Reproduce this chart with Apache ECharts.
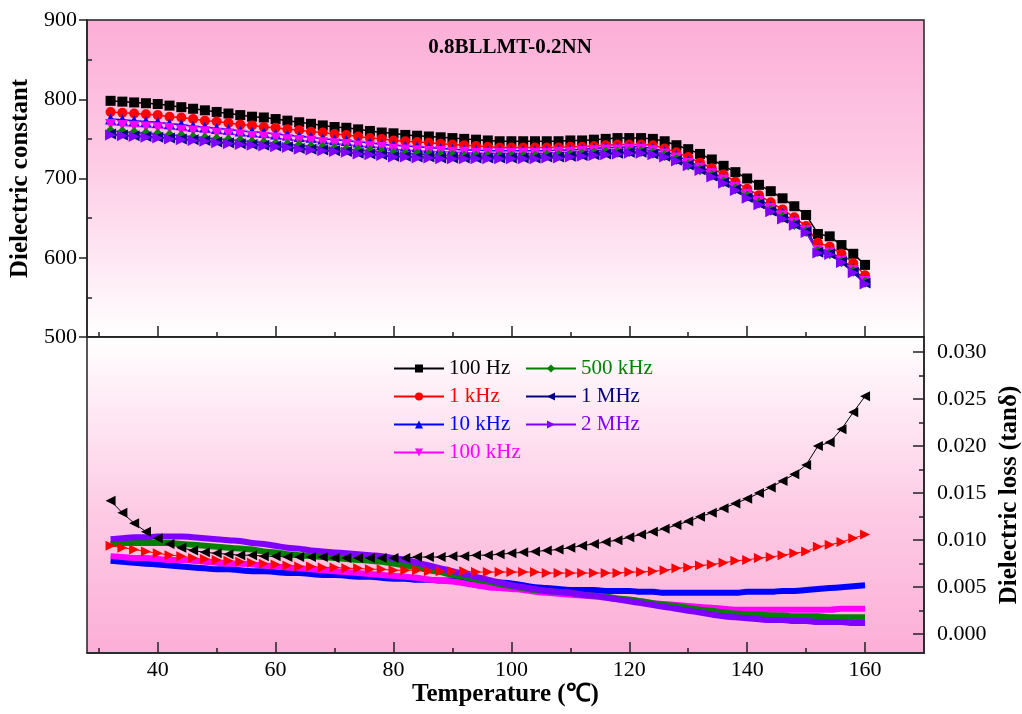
<!DOCTYPE html>
<html><head><meta charset="utf-8">
<script src="https://cdn.jsdelivr.net/npm/echarts@6/dist/echarts.min.js"></script>
<style>html,body{margin:0;padding:0;background:#fff}#c{width:1022px;height:714px}</style>
</head><body><div id="c"></div><script>
// Temperature (°C)
const temps = [32,34,36,38,40,42,44,46,48,50,52,54,56,58,60,62,64,66,68,70,72,74,76,78,80,82,84,86,88,90,92,94,96,98,100,102,104,106,108,110,112,114,116,118,120,122,124,126,128,130,132,134,136,138,140,142,144,146,148,150,152,154,156,158,160];

// Dielectric constant (top panel)
const dc100Hz = [798,797,796,795,794,792,790,788,786,784,782,780,778,777,775,773,771,769,767,765,764,762,760,758,757,755,754,753,752,751,750,749,748,747,747,747,747,747,747,748,748,749,750,751,751,751,750,747,742,737,731,724,716,708,700,692,684,675,665,654,630,627,616,605,591];
const dc1kHz = [784,783,782,781,780,778,777,775,773,772,770,768,767,765,764,762,761,759,758,756,755,753,751,750,748,747,746,745,744,743,742,741,740,739,739,739,739,739,739,740,740,741,742,743,743,743,742,738,733,727,720,713,705,696,687,679,670,661,651,640,619,614,605,593,578];
const dc10kHz = [775,774,773,772,771,769,768,766,765,763,762,760,759,758,756,755,753,752,750,749,748,746,745,743,742,741,740,739,738,737,736,736,735,735,735,735,735,735,736,736,737,738,739,739,740,740,738,734,729,722,715,708,700,691,682,674,665,656,646,636,611,608,598,586,572];
const dc100kHz = [768,767,766,765,764,763,761,760,759,757,756,755,753,752,751,749,748,747,745,744,743,741,740,739,737,736,735,734,734,733,733,732,732,732,732,732,732,732,733,733,734,735,736,736,737,737,735,731,726,719,713,706,698,689,680,671,662,653,644,634,609,606,596,584,570];
const dc500kHz = [760,759,758,757,756,755,754,752,751,750,749,748,746,745,744,743,742,740,739,738,737,736,735,733,732,731,731,730,729,729,728,728,728,728,728,728,728,729,729,730,731,732,733,733,734,734,732,729,724,717,711,704,696,687,678,669,660,651,642,633,608,605,595,583,569];
const dc1MHz = [756,755,754,753,752,751,750,749,748,746,745,744,743,742,741,740,738,737,736,735,734,732,731,730,728,728,727,727,726,726,726,726,726,726,726,726,726,727,727,728,729,730,731,732,733,733,731,728,723,717,711,703,695,686,676,668,659,650,642,633,607,605,595,582,568];
const dc2MHz = [755,754,753,752,751,750,749,748,747,745,744,743,742,741,740,739,737,736,735,734,733,731,730,729,727,727,726,726,725,725,725,725,725,725,725,725,725,726,726,727,728,729,730,731,732,732,730,727,722,716,710,702,694,685,675,667,658,649,641,632,606,604,594,581,567];

// Dielectric loss tanδ (bottom panel)
const loss100Hz = [0.0142,0.0129,0.0118,0.0109,0.0102,0.0096,0.0092,0.0089,0.0087,0.0086,0.0085,0.0084,0.0084,0.0083,0.0083,0.0082,0.0082,0.0082,0.0082,0.0081,0.0081,0.0081,0.0081,0.0081,0.0081,0.0081,0.0082,0.0082,0.0082,0.0083,0.0083,0.0084,0.0084,0.0085,0.0086,0.0087,0.0088,0.0089,0.0090,0.0092,0.0094,0.0096,0.0098,0.0100,0.0103,0.0106,0.0109,0.0112,0.0116,0.0120,0.0125,0.0129,0.0134,0.0139,0.0144,0.0150,0.0156,0.0163,0.0170,0.0180,0.0200,0.0204,0.0218,0.0236,0.0253];
const loss1kHz = [0.0094,0.0092,0.0090,0.0088,0.0086,0.0084,0.0083,0.0081,0.0080,0.0079,0.0078,0.0077,0.0076,0.0075,0.0074,0.0073,0.0072,0.0072,0.0071,0.0071,0.0070,0.0070,0.0069,0.0069,0.0068,0.0068,0.0068,0.0067,0.0067,0.0067,0.0067,0.0066,0.0066,0.0066,0.0066,0.0066,0.0066,0.0065,0.0065,0.0065,0.0065,0.0065,0.0065,0.0065,0.0066,0.0066,0.0067,0.0068,0.0070,0.0071,0.0073,0.0074,0.0076,0.0078,0.0079,0.0081,0.0082,0.0084,0.0086,0.0088,0.0093,0.0095,0.0098,0.0102,0.0106];
const loss10kHz = [0.0078,0.0077,0.0076,0.0075,0.0074,0.0073,0.0072,0.0071,0.0070,0.0069,0.0069,0.0068,0.0067,0.0067,0.0066,0.0065,0.0065,0.0064,0.0063,0.0063,0.0062,0.0061,0.0061,0.0060,0.0059,0.0059,0.0058,0.0058,0.0057,0.0057,0.0056,0.0056,0.0055,0.0055,0.0054,0.0052,0.0050,0.0049,0.0048,0.0047,0.0047,0.0047,0.0046,0.0046,0.0046,0.0045,0.0045,0.0044,0.0044,0.0044,0.0044,0.0044,0.0044,0.0044,0.0045,0.0045,0.0045,0.0046,0.0046,0.0047,0.0048,0.0049,0.0050,0.0051,0.0052];
const loss100kHz = [0.0083,0.0082,0.0081,0.0081,0.0080,0.0079,0.0079,0.0078,0.0077,0.0076,0.0075,0.0075,0.0074,0.0073,0.0072,0.0071,0.0070,0.0069,0.0068,0.0067,0.0066,0.0065,0.0064,0.0063,0.0062,0.0061,0.0060,0.0058,0.0057,0.0056,0.0054,0.0052,0.0050,0.0049,0.0048,0.0047,0.0045,0.0044,0.0043,0.0042,0.0041,0.0040,0.0039,0.0037,0.0036,0.0035,0.0033,0.0032,0.0031,0.0030,0.0029,0.0028,0.0027,0.0026,0.0026,0.0026,0.0026,0.0026,0.0026,0.0026,0.0026,0.0026,0.0027,0.0027,0.0027];
const loss500kHz = [0.0096,0.0097,0.0097,0.0097,0.0097,0.0097,0.0096,0.0095,0.0094,0.0093,0.0092,0.0091,0.0090,0.0088,0.0087,0.0085,0.0084,0.0083,0.0082,0.0081,0.0080,0.0079,0.0078,0.0077,0.0075,0.0073,0.0071,0.0068,0.0066,0.0063,0.0061,0.0058,0.0056,0.0053,0.0051,0.0049,0.0047,0.0046,0.0045,0.0044,0.0042,0.0041,0.0040,0.0038,0.0037,0.0035,0.0033,0.0031,0.0030,0.0028,0.0026,0.0025,0.0023,0.0022,0.0021,0.0021,0.0020,0.0020,0.0019,0.0019,0.0019,0.0018,0.0018,0.0018,0.0018];
const loss2MHz = [0.0101,0.0102,0.0103,0.0103,0.0104,0.0104,0.0104,0.0103,0.0102,0.0101,0.0100,0.0099,0.0097,0.0096,0.0094,0.0092,0.0091,0.0089,0.0088,0.0087,0.0086,0.0085,0.0084,0.0083,0.0081,0.0079,0.0076,0.0073,0.0070,0.0067,0.0064,0.0061,0.0058,0.0055,0.0052,0.0050,0.0048,0.0046,0.0045,0.0044,0.0042,0.0041,0.0039,0.0037,0.0035,0.0033,0.0031,0.0029,0.0027,0.0025,0.0023,0.0021,0.0019,0.0018,0.0017,0.0016,0.0015,0.0015,0.0014,0.0014,0.0013,0.0013,0.0013,0.0012,0.0012];

// Tick labels
const xMajor = [40,60,80,100,120,140,160];
const xMinor = [30,50,70,90,110,130,150];
const dcMinor = [550,650,750,850];
const lossMajor = [0,0.005,0.010,0.015,0.020,0.025,0.030];
const lossMinor = [0.0025,0.0075,0.0125,0.0175,0.0225,0.0275];

const FONT = 'Liberation Serif';
const pair = arr => arr.map((v,i)=>[temps[i], v]);

const topSeries = [
  {name:'100 Hz', data:dc100Hz, color:'#000000', symbol:'rect', size:10, rot:0},
  {name:'1 kHz', data:dc1kHz, color:'#FF0000', symbol:'circle', size:10, rot:0},
  {name:'10 kHz', data:dc10kHz, color:'#0000FF', symbol:'triangle', size:11, rot:0},
  {name:'100 kHz', data:dc100kHz, color:'#FF00FF', symbol:'triangle', size:11, rot:180},
  {name:'500 kHz', data:dc500kHz, color:'#008000', symbol:'diamond', size:11, rot:0},
  {name:'1 MHz', data:dc1MHz, color:'#000080', symbol:'triangle', size:11, rot:90},
  {name:'2 MHz', data:dc2MHz, color:'#8000FF', symbol:'triangle', size:11, rot:-90}
];

const series = [];
topSeries.forEach(s => series.push({
  name:s.name, type:'line', xAxisIndex:0, yAxisIndex:0,
  data:pair(s.data), symbol:s.symbol, symbolSize:s.size, symbolRotate:s.rot,
  showSymbol:true, color:s.color, itemStyle:{color:s.color},
  lineStyle:{width:1.5, color:s.color}, z:2
}));
// bottom panel
series.push({name:'tan 100 Hz', type:'line', xAxisIndex:1, yAxisIndex:2, data:pair(loss100Hz),
  symbol:'triangle', symbolSize:10, symbolRotate:90, color:'#000000', lineStyle:{width:1,color:'#000'}});
series.push({name:'tan 1 kHz', type:'line', xAxisIndex:1, yAxisIndex:2, data:pair(loss1kHz),
  symbol:'triangle', symbolSize:10, symbolRotate:-90, color:'#FF0000', lineStyle:{width:1,color:'#FF0000'}});
[[loss10kHz,'#0000FF','tan 10 kHz'],[loss100kHz,'#FF00FF','tan 100 kHz'],[loss500kHz,'#008000','tan 500 kHz'],[loss2MHz,'#8000FF','tan 2 MHz']]
.forEach(([d,c,n]) => series.push({name:n, type:'line', xAxisIndex:1, yAxisIndex:2, data:pair(d),
  showSymbol:false, symbol:'none', smooth:true, color:c, lineStyle:{width:6, color:c}}));

const legendItem = (n,c) => ({name:n, textStyle:{color:c}});
const legendCommon = {orient:'vertical', itemWidth:50, itemHeight:10, itemGap:7, selectedMode:false,
  textStyle:{fontFamily:FONT, fontSize:21, lineHeight:21}, padding:0};

const gradTop = {type:'linear', x:0, y:0, x2:0, y2:1, colorStops:[{offset:0,color:'#FCAED7'},{offset:0.45,color:'#FDCBE5'},{offset:1,color:'#FFFFFF'}]};
const gradBot = {type:'linear', x:0, y:0, x2:0, y2:1, colorStops:[{offset:0,color:'#FFFFFF'},{offset:0.55,color:'#FDCBE5'},{offset:1,color:'#FCAED7'}]};

const hidden = {axisLine:{show:false, onZero:false}, axisLabel:{show:false}, splitLine:{show:false}};
const option = {
  animation:false,
  backgroundColor:'#ffffff',
  title:{text:'0.8BLLMT-0.2NN', left:505, top:32, textAlign:'center',
    textStyle:{fontFamily:FONT, fontSize:21, fontWeight:'bold', color:'#000'}},
  legend:[
    Object.assign({}, legendCommon, {left:393, top:358, data:[legendItem('100 Hz','#000000'),legendItem('1 kHz','#FF0000'),legendItem('10 kHz','#0000FF'),legendItem('100 kHz','#FF00FF')]}),
    Object.assign({}, legendCommon, {left:525, top:358, data:[legendItem('500 kHz','#008000'),legendItem('1 MHz','#000080'),legendItem('2 MHz','#8000FF')]})
  ],
  grid:[
    {left:87, top:20, width:837, height:317, show:true, backgroundColor:gradTop, borderColor:'#222', borderWidth:1.5, containLabel:false, outerBoundsMode:'none'},
    {left:87, top:337, width:837, height:316, show:true, backgroundColor:gradBot, borderColor:'#222', borderWidth:1.5, containLabel:false, outerBoundsMode:'none'}
  ],
  xAxis:[
    {type:'value', gridIndex:0, min:28, max:170, position:'bottom',
      axisLine:{show:true, onZero:false, lineStyle:{color:'#222', width:1.5}},
      axisTick:{show:true, inside:true, length:11, customValues:xMajor, lineStyle:{color:'#222', width:1.5}},
      axisLabel:{show:false}, splitLine:{show:false}},
    {type:'value', gridIndex:1, min:28, max:170, position:'bottom',
      name:'Temperature (℃)', nameLocation:'middle', nameGap:27,
      nameTextStyle:{fontFamily:FONT, fontSize:25, fontWeight:'bold', color:'#000'},
      axisLine:{show:true, onZero:false, lineStyle:{color:'#222', width:1.5}},
      axisTick:{show:true, inside:true, length:11, customValues:xMajor, lineStyle:{color:'#222', width:1.5}},
      axisLabel:{show:true, customValues:xMajor, margin:6, fontFamily:FONT, fontSize:22, color:'#000'},
      splitLine:{show:false}},
    Object.assign({type:'value', gridIndex:0, min:28, max:170, position:'bottom',
      axisTick:{show:true, inside:true, length:5, customValues:xMinor, lineStyle:{color:'#222', width:1.5}}}, hidden),
    Object.assign({type:'value', gridIndex:1, min:28, max:170, position:'bottom',
      axisTick:{show:true, inside:true, length:5, customValues:xMinor, lineStyle:{color:'#222', width:1.5}}}, hidden)
  ],
  yAxis:[
    {type:'value', gridIndex:0, min:500, max:900, interval:100, position:'left',
      name:'Dielectric constant', nameLocation:'middle', nameGap:44, nameRotate:90,
      nameTextStyle:{fontFamily:FONT, fontSize:25, fontWeight:'bold', color:'#000'},
      axisLine:{show:true, onZero:false, lineStyle:{color:'#222', width:1.5}},
      axisTick:{show:true, inside:false, length:8, lineStyle:{color:'#222', width:1.5}},
      axisLabel:{margin:10, fontFamily:FONT, fontSize:22, color:'#000'},
      splitLine:{show:false}},
    Object.assign({type:'value', gridIndex:0, min:500, max:900, position:'left',
      axisTick:{show:true, inside:true, length:5, customValues:dcMinor, lineStyle:{color:'#222', width:1.5}}}, hidden),
    {type:'value', gridIndex:1, min:-0.002, max:0.0316, position:'right',
      name:'Dielectric loss (tanδ)', nameLocation:'middle', nameGap:71, nameRotate:90,
      nameTextStyle:{fontFamily:FONT, fontSize:25, fontWeight:'bold', color:'#000'},
      axisLine:{show:true, onZero:false, lineStyle:{color:'#222', width:1.5}},
      axisTick:{show:true, inside:true, length:11, customValues:lossMajor, lineStyle:{color:'#222', width:1.5}},
      axisLabel:{show:true, customValues:lossMajor, margin:13, fontFamily:FONT, fontSize:22, color:'#000',
        formatter:v=>Number(v).toFixed(3)},
      splitLine:{show:false}},
    Object.assign({type:'value', gridIndex:1, min:-0.002, max:0.0316, position:'right',
      axisTick:{show:true, inside:true, length:5, customValues:lossMinor, lineStyle:{color:'#222', width:1.5}}}, hidden)
  ],
  series: series
};
const chart = echarts.init(document.getElementById('c'), null, {renderer:'canvas'});
chart.setOption(option);
</script></body></html>
